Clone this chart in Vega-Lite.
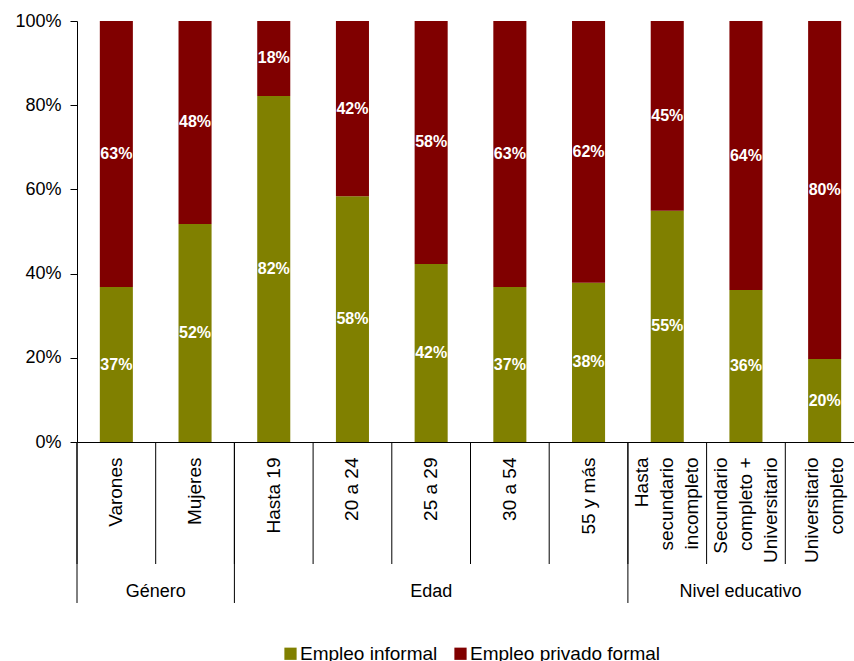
{
  "$schema": "https://vega.github.io/schema/vega-lite/v6.json",
  "width": 777,
  "height": 421,
  "autosize": {"type": "none"},
  "padding": {"left": 77, "top": 21, "right": 0, "bottom": 219},
  "background": "white",
  "config": {
    "view": {"stroke": null},
    "font": "Liberation Sans",
    "axis": {"grid": false}
  },
  "datasets": {
    "main": [
      {"cat": "Varones", "serie": "Empleo informal", "value": 0.368},
      {"cat": "Varones", "serie": "Empleo privado formal", "value": 0.632},
      {"cat": "Mujeres", "serie": "Empleo informal", "value": 0.518},
      {"cat": "Mujeres", "serie": "Empleo privado formal", "value": 0.482},
      {"cat": "Hasta 19", "serie": "Empleo informal", "value": 0.822},
      {"cat": "Hasta 19", "serie": "Empleo privado formal", "value": 0.178},
      {"cat": "20 a 24", "serie": "Empleo informal", "value": 0.584},
      {"cat": "20 a 24", "serie": "Empleo privado formal", "value": 0.416},
      {"cat": "25 a 29", "serie": "Empleo informal", "value": 0.423},
      {"cat": "25 a 29", "serie": "Empleo privado formal", "value": 0.577},
      {"cat": "30 a 54", "serie": "Empleo informal", "value": 0.368},
      {"cat": "30 a 54", "serie": "Empleo privado formal", "value": 0.632},
      {"cat": "55 y más", "serie": "Empleo informal", "value": 0.378},
      {"cat": "55 y más", "serie": "Empleo privado formal", "value": 0.622},
      {"cat": "Hasta secundario incompleto", "serie": "Empleo informal", "value": 0.549},
      {"cat": "Hasta secundario incompleto", "serie": "Empleo privado formal", "value": 0.451},
      {"cat": "Secundario completo + Universitario", "serie": "Empleo informal", "value": 0.361},
      {"cat": "Secundario completo + Universitario", "serie": "Empleo privado formal", "value": 0.639},
      {"cat": "Universitario completo", "serie": "Empleo informal", "value": 0.197},
      {"cat": "Universitario completo", "serie": "Empleo privado formal", "value": 0.803}
    ],
    "grupos": [
      {"grupo": "Género", "inicio": "Varones", "ancla": "Mujeres"},
      {"grupo": "Edad", "inicio": "Hasta 19", "ancla": "25 a 29"},
      {"grupo": "Nivel educativo", "inicio": "Hasta secundario incompleto", "ancla": "Secundario completo + Universitario"}
    ]
  },
  "layer": [
    {
      "data": {"name": "main"},
      "transform": [
        {"stack": "value", "groupby": ["cat"], "sort": [{"field": "serie", "order": "ascending"}], "as": ["v0", "v1"]},
        {"calculate": "(datum.v0 + datum.v1) / 2", "as": "mid"}
      ],
      "layer": [
        {
          "mark": {"type": "bar", "width": {"band": 0.42}},
          "encoding": {
            "x": {
              "field": "cat",
              "type": "nominal",
              "sort": null,
              "title": null,
              "scale": {
                "domain": ["Varones", "Mujeres", "Hasta 19", "20 a 24", "25 a 29", "30 a 54", "55 y más", "Hasta secundario incompleto", "Secundario completo + Universitario", "Universitario completo"],
                "range": [0, 787],
                "paddingInner": 0,
                "paddingOuter": 0
              },
              "axis": {
                "title": null,
                "ticks": false,
                "labelAngle": -90,
                "labelAlign": "right",
                "labelBaseline": "middle",
                "labelPadding": 15,
                "labelFontSize": 19,
                "labelLineHeight": 25,
                "labelColor": "black",
                "labelOffset": {
                  "condition": [
                    {"test": "datum.value == 'Hasta secundario incompleto' || datum.value == 'Secundario completo + Universitario'", "value": -25},
                    {"test": "datum.value == 'Universitario completo'", "value": -13}
                  ],
                  "value": 0
                },
                "domainColor": "black",
                "domainWidth": 1,
                "labelExpr": "datum.value == 'Hasta secundario incompleto' ? ['Hasta', 'secundario', 'incompleto'] : datum.value == 'Secundario completo + Universitario' ? ['Secundario', 'completo +', 'Universitario'] : datum.value == 'Universitario completo' ? ['Universitario', 'completo'] : datum.label"
              }
            },
            "y": {
              "field": "v1",
              "type": "quantitative",
              "title": null,
              "scale": {"domain": [0, 1], "nice": false},
              "axis": {
                "title": null,
                "format": ".0%",
                "values": [0, 0.2, 0.4, 0.6, 0.8, 1],
                "labelFontSize": 18,
                "labelColor": "black",
                "tickSize": 7,
                "labelPadding": 9,
                "tickColor": "black",
                "domainColor": "black"
              }
            },
            "y2": {"field": "v0"},
            "color": {
              "field": "serie",
              "type": "nominal",
              "scale": {"domain": ["Empleo informal", "Empleo privado formal"], "range": ["#808000", "#800000"]},
              "legend": {
                "title": null,
                "orient": "none",
                "legendX": 204,
                "legendY": 623,
                "direction": "horizontal",
                "symbolType": "square",
                "symbolSize": 150,
                "symbolStrokeWidth": 0,
                "labelFontSize": 19,
                "labelColor": "black",
                "labelLimit": 400,
                "labelOffset": 0,
                "columnPadding": 13
              }
            }
          }
        },
        {
          "mark": {"type": "text", "color": "white", "fontWeight": "bold", "fontSize": 16, "baseline": "middle", "align": "center"},
          "encoding": {
            "x": {"field": "cat", "type": "nominal", "sort": null, "title": null},
            "y": {"field": "mid", "type": "quantitative", "title": null},
            "text": {"field": "value", "type": "quantitative", "format": ".0%"}
          }
        },
        {
          "transform": [{"filter": "datum.serie == 'Empleo informal'"}],
          "mark": {"type": "rule", "color": "black", "strokeWidth": 1},
          "encoding": {
            "x": {"field": "cat", "type": "nominal", "sort": null, "bandPosition": 0, "title": null},
            "y": {"datum": 0, "title": null},
            "y2": {"datum": -0.2898}
          }
        }
      ]
    },
    {
      "data": {"name": "grupos"},
      "layer": [
        {
          "mark": {"type": "rule", "color": "black", "strokeWidth": 1},
          "encoding": {
            "x": {"field": "inicio", "type": "nominal", "bandPosition": 0, "title": null},
            "y": {"datum": 0, "title": null},
            "y2": {"datum": -0.3824}
          }
        },
        {
          "transform": [{"filter": "datum.grupo == 'Género'"}],
          "mark": {"type": "text", "fontSize": 18, "color": "black", "align": "center", "baseline": "middle"},
          "encoding": {
            "x": {"field": "ancla", "type": "nominal", "bandPosition": 0, "title": null},
            "y": {"datum": -0.356, "title": null},
            "text": {"field": "grupo"}
          }
        },
        {
          "transform": [{"filter": "datum.grupo == 'Edad'"}],
          "mark": {"type": "text", "fontSize": 18, "color": "black", "align": "center", "baseline": "middle"},
          "encoding": {
            "x": {"field": "ancla", "type": "nominal", "bandPosition": 0.5, "title": null},
            "y": {"datum": -0.356, "title": null},
            "text": {"field": "grupo"}
          }
        },
        {
          "transform": [{"filter": "datum.grupo == 'Nivel educativo'"}],
          "mark": {"type": "text", "fontSize": 18, "color": "black", "align": "center", "baseline": "middle"},
          "encoding": {
            "x": {"field": "ancla", "type": "nominal", "bandPosition": 0.43, "title": null},
            "y": {"datum": -0.356, "title": null},
            "text": {"field": "grupo"}
          }
        }
      ]
    }
  ]
}
